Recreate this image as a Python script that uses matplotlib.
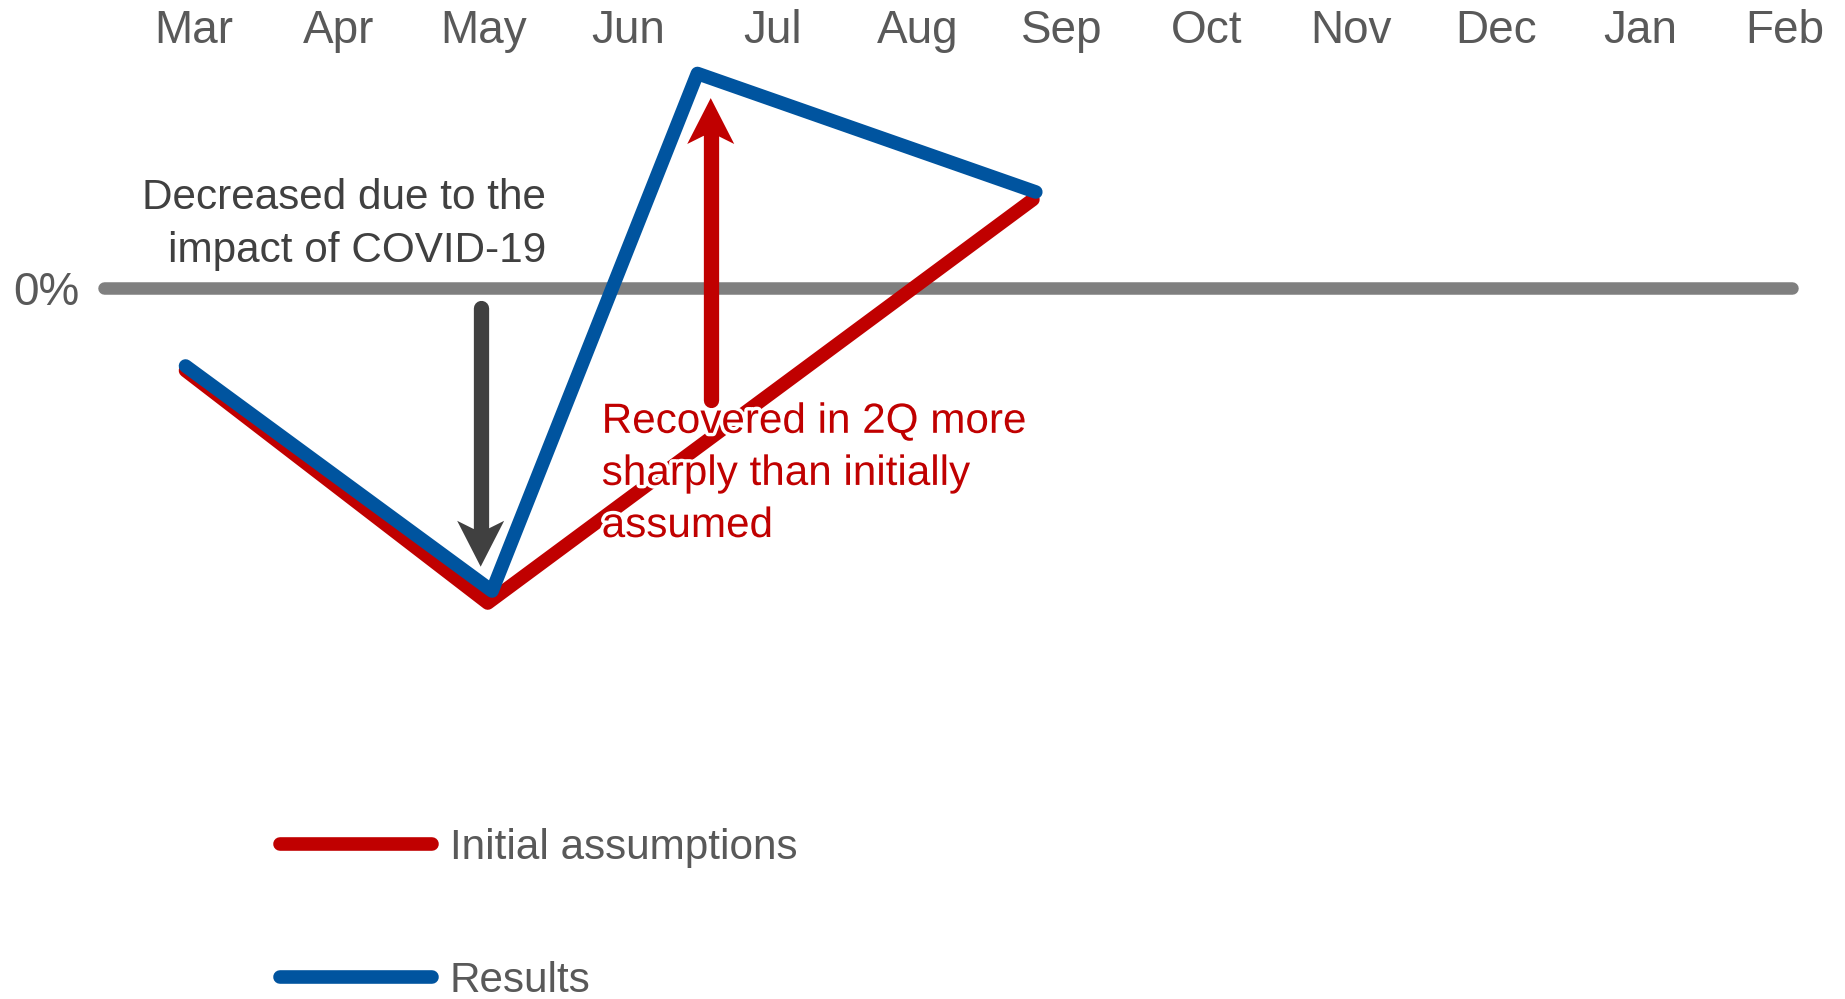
import matplotlib
matplotlib.use('Agg')
import matplotlib.pyplot as plt
import matplotlib.patheffects as pe

plt.rcParams['font.family'] = ['Liberation Sans', 'DejaVu Sans']

# ─── DATA ────────────────────────────────────────────────────────────────────
MONTHS = ['Mar', 'Apr', 'May', 'Jun', 'Jul', 'Aug',
          'Sep', 'Oct', 'Nov', 'Dec', 'Jan', 'Feb']

# month index (Mar = 0), change vs. plan in %
INITIAL_X = [-0.06, 2.03, 5.80]
INITIAL_Y = [-2.75, -10.5, 2.95]
RESULTS_X = [-0.06, 2.06, 3.48, 5.82]
RESULTS_Y = [-2.6, -10.1, 7.15, 3.2]

# ─── STYLE ───────────────────────────────────────────────────────────────────
RED = '#c00000'
BLUE = '#00549f'
GREY_LINE = '#7f7f7f'
DARK = '#404040'
TEXT = '#595959'
FS_AXIS = 33
FS_TEXT = 30.4


def arrow(ax, x, y_tail, y_tip, color, head_w=0.325, head_len=1.53, notch=0.27):
    """Vertical arrow: round-capped shaft + notched head (data units)."""
    sgn = 1 if y_tip > y_tail else -1
    y_base = y_tip - sgn * head_len
    y_inner = y_base + sgn * notch
    ax.plot([x, x], [y_tail, y_inner], color=color, lw=11,
            solid_capstyle='round', zorder=5)
    sw = 0.05
    ax.fill([x, x + head_w / 2, x + sw, x - sw, x - head_w / 2],
            [y_tip, y_base, y_inner, y_inner, y_base],
            color=color, lw=0, zorder=5)


fig = plt.figure(figsize=(18.45, 9.99), dpi=100)
ax = fig.add_axes([0, 0, 1, 1])
ax.set_xlim(-1.343, 11.416)
ax.set_ylim(-23.7, 9.6)
ax.patch.set_visible(False)
for s in ax.spines.values():
    s.set_visible(False)

# zero line
ax.plot([-0.624, 11.05], [0, 0], color=GREY_LINE, lw=9,
        solid_capstyle='round', zorder=1)

ax.plot(INITIAL_X, INITIAL_Y, color=RED, lw=9.8, solid_capstyle='round',
        solid_joinstyle='round', zorder=3, label='Initial assumptions')
ax.plot(RESULTS_X, RESULTS_Y, color=BLUE, lw=9.8, solid_capstyle='round',
        solid_joinstyle='round', zorder=4, label='Results')

# month labels on top, 0% on the left
ax.set_xticks(range(len(MONTHS)), MONTHS)
ax.tick_params(axis='x', bottom=False, top=False, labelbottom=False,
               labeltop=True, length=0, pad=-38, labelsize=FS_AXIS,
               labelcolor=TEXT)
ax.set_yticks([0], ['0%'])
ax.tick_params(axis='y', left=False, labelleft=True, length=0, pad=-57,
               labelsize=FS_AXIS, labelcolor=TEXT)

# annotations (y = baseline of the last line)
arrow(ax, 1.981, -0.66, -9.29, DARK)
ax.text(2.433, 0.88, 'Decreased due to the\nimpact of COVID-19',
        ha='right', va='baseline', multialignment='right',
        fontsize=FS_TEXT, color=DARK, linespacing=1.41)

arrow(ax, 3.572, -3.73, 6.33, RED)
ax.text(2.818, -8.3, 'Recovered in 2Q more\nsharply than initially\nassumed',
        ha='left', va='baseline', fontsize=FS_TEXT, color=RED,
        linespacing=1.39, zorder=6,
        path_effects=[pe.withStroke(linewidth=5, foreground='white')])

ax.legend(loc='upper left', bbox_to_anchor=(280 / 1845, 1 - 828 / 999),
          bbox_transform=fig.transFigure, frameon=False, fontsize=FS_TEXT,
          labelcolor=TEXT, handlelength=3.6, handletextpad=0.42,
          labelspacing=2.2, borderpad=0, borderaxespad=0)

fig.savefig('out.png', dpi=100)
